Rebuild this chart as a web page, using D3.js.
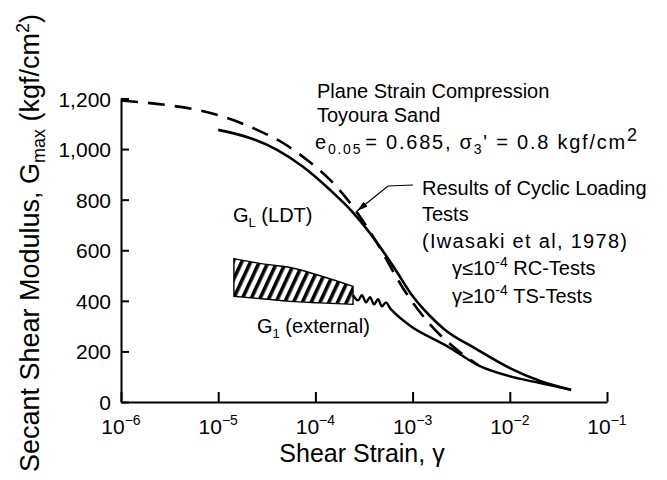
<!DOCTYPE html>
<html><head><meta charset="utf-8">
<script src="https://cdn.jsdelivr.net/npm/d3@7"></script>
<style>
html,body{margin:0;padding:0;background:#fff;}
svg{display:block;font-family:"Liberation Sans",Arial,sans-serif;}
</style></head><body>
<svg id="chart" width="667" height="480"></svg>
<script>
// ---------- data ----------
const xTickValues = [1e-6, 1e-5, 1e-4, 1e-3, 1e-2, 1e-1];
const xTickExponents = ["−6", "−5", "−4", "−3", "−2", "−1"];
const yTickValues = [0, 200, 400, 600, 800, 1000, 1200];

// Results of cyclic loading tests (dashed)
const cyclicStrain = [1e-6, 2.97e-6, 6.05e-6, 1.23e-5, 2.51e-5, 4.65e-5, 8.2e-5, 1.41e-4, 2.44e-4, 3.92e-4, 8.75e-4, 1.51e-3, 3.08e-3, 4.71e-3];
const cyclicG      = [1192, 1174, 1155, 1123, 1076, 1024, 957, 879, 772, 654, 426, 307, 197, 146];

// G_L (LDT) (solid)
const ldtStrain = [1e-5, 2.12e-5, 4.03e-5, 7.45e-5, 1.41e-4, 2.44e-4, 4.31e-4, 6.59e-4, 1e-3, 1.51e-3, 2.1e-3, 4.49e-3, 1e-2, 2.05e-2, 4.27e-2];
const ldtG      = [1076, 1044, 997, 930, 839, 749, 630, 526, 419, 340, 289, 210, 134, 83, 48];

// G_1 (external) hatched band
const bandStrain = [1.45e-5, 3e-5, 5.5e-5, 1.1e-4, 2.44e-4];
const bandUpperG = [567, 545, 532, 500, 457];
const bandLowerG = [418, 407, 398, 392, 386];

// G_1 (external) line continuing from the band
const externalStrain = [2.44e-4, 2.74e-4, 3.01e-4, 3.32e-4, 3.65e-4, 4.01e-4, 4.41e-4, 4.84e-4, 5.32e-4, 6.0e-4, 1e-3, 2.26e-3, 4.93e-3, 1.08e-2, 2.05e-2, 4.27e-2];
const externalG      = [422, 402, 422, 394, 414, 386, 406, 378, 394, 366, 295, 221, 142, 98, 75, 48];

// ---------- layout ----------
const plot = {left: 121, right: 607, top: 98.5, bottom: 402};
const svg = d3.select("#chart");
const x = d3.scaleLog().domain([1e-6, 1e-1]).range([plot.left, plot.right]);
const y = d3.scaleLinear().domain([0, 1200]).range([plot.bottom, plot.top]);

const defs = svg.append("defs");
defs.append("pattern").attr("id", "hatch")
  .attr("patternUnits", "userSpaceOnUse").attr("width", 8).attr("height", 8)
  .attr("patternTransform", "rotate(25)")
  .append("rect").attr("x", 0).attr("y", 0).attr("width", 3.6).attr("height", 8).attr("fill", "#000");
defs.append("marker").attr("id", "arrow")
  .attr("markerUnits", "userSpaceOnUse").attr("markerWidth", 12).attr("markerHeight", 8)
  .attr("refX", 11).attr("refY", 4).attr("orient", "auto")
  .append("path").attr("d", "M0,1 L11,4 L0,7 Z").attr("fill", "#000");

// ---------- axes ----------
const xAxis = d3.axisBottom(x).tickValues(xTickValues).tickFormat(() => "")
  .tickSizeInner(-10).tickSizeOuter(0);
const gx = svg.append("g").attr("transform", `translate(0,${plot.bottom})`).call(xAxis);
const yAxis = d3.axisLeft(y).tickValues(yTickValues).tickFormat(d3.format(","))
  .tickSizeInner(-8).tickSizeOuter(0).tickPadding(10);
const gy = svg.append("g").attr("transform", `translate(${plot.left},0)`).call(yAxis);
[gx, gy].forEach(g => {
  g.selectAll("path.domain").attr("stroke", "#000").attr("stroke-width", 2);
  g.selectAll(".tick line").attr("stroke", "#000").attr("stroke-width", 2);
});
gy.selectAll(".tick text").attr("font-size", 21).attr("font-family", "Liberation Sans, Arial, sans-serif")
  .attr("fill", "#000").attr("dy", "0.36em");

// x tick labels 10^n
const xl = svg.append("g").attr("font-size", 21).attr("fill", "#000");
xTickValues.forEach((v, i) => {
  const t = xl.append("text").attr("x", x(v)).attr("y", 434).attr("text-anchor", "middle");
  t.append("tspan").text("10");
  t.append("tspan").attr("font-size", 14).attr("dy", -9).text(xTickExponents[i]);
});

// axis titles
svg.append("text").attr("x", 362).attr("y", 462).attr("text-anchor", "middle")
  .attr("font-size", 25).text("Shear Strain, γ");
const yt = svg.append("text").attr("transform", "translate(39,243) rotate(-90)")
  .attr("text-anchor", "middle").attr("font-size", 27);
yt.append("tspan").text("Secant Shear Modulus, G");
yt.append("tspan").attr("font-size", 18).attr("dy", 6).text("max");
yt.append("tspan").attr("dy", -6).text(" (kgf/cm");
yt.append("tspan").attr("font-size", 18).attr("dy", -10).text("2");
yt.append("tspan").attr("dy", 10).text(")");

// ---------- marks ----------
const bandData = bandStrain.map((s, i) => ({s, hi: bandUpperG[i], lo: bandLowerG[i]}));
svg.append("path").datum(bandData)
  .attr("d", d3.area().x(d => x(d.s)).y0(d => y(d.lo)).y1(d => y(d.hi)).curve(d3.curveMonotoneX))
  .attr("fill", "url(#hatch)").attr("stroke", "#000").attr("stroke-width", 1.4);

const line = d3.line().x(d => x(d[0])).y(d => y(d[1])).curve(d3.curveMonotoneX);
svg.append("path").datum(cyclicStrain.map((s, i) => [s, cyclicG[i]]))
  .attr("d", line).attr("fill", "none").attr("stroke", "#000").attr("stroke-width", 2.6)
  .attr("stroke-dasharray", "17,10");
svg.append("path").datum(ldtStrain.map((s, i) => [s, ldtG[i]]))
  .attr("d", line).attr("fill", "none").attr("stroke", "#000").attr("stroke-width", 2.6);
svg.append("path").datum(externalStrain.map((s, i) => [s, externalG[i]]))
  .attr("d", d3.line().x(d => x(d[0])).y(d => y(d[1])).curve(d3.curveCatmullRom))
  .attr("fill", "none").attr("stroke", "#000").attr("stroke-width", 2.4);

// ---------- annotations ----------
const ann = svg.append("g").attr("font-size", 20).attr("fill", "#000");
ann.append("text").attr("x", 317).attr("y", 98).text("Plane Strain Compression");
ann.append("text").attr("x", 317).attr("y", 122).text("Toyoura Sand");
const e = ann.append("text").attr("x", 315).attr("y", 149)
  .attr("textLength", 322).attr("lengthAdjust", "spacing");
e.append("tspan").text("e");
e.append("tspan").attr("font-size", 14).attr("dy", 5).text("0.05");
e.append("tspan").attr("dy", -5).attr("dx", 3).text("= 0.685, σ");
e.append("tspan").attr("font-size", 14).attr("dy", 5).text("3");
e.append("tspan").attr("dy", -5).text("' = 0.8 kgf/cm");
e.append("tspan").attr("font-size", 18).attr("dy", -8).text("2");

ann.append("text").attr("x", 422).attr("y", 195).text("Results of Cyclic Loading");
ann.append("text").attr("x", 422).attr("y", 221).text("Tests");
ann.append("text").attr("x", 422).attr("y", 248)
  .attr("textLength", 205).attr("lengthAdjust", "spacing").text("(Iwasaki et al, 1978)");
[["≤", "RC", 275], ["≥", "TS", 303]].forEach(([op, kind, yy]) => {
  const t = ann.append("text").attr("x", 452).attr("y", yy);
  t.append("tspan").text("γ" + op + "10");
  t.append("tspan").attr("font-size", 14).attr("dy", -8).text("-4");
  t.append("tspan").attr("dy", 8).text(" " + kind + "-Tests");
});
svg.append("path")
  .attr("d", `M413,185 L388,186 L${x(2.68e-4)},${y(755)}`)
  .attr("fill", "none").attr("stroke", "#000").attr("stroke-width", 1.2)
  .attr("marker-end", "url(#arrow)");

const gl = ann.append("text").attr("x", 233).attr("y", 222);
gl.append("tspan").text("G");
gl.append("tspan").attr("font-size", 13).attr("dy", 5).text("L");
gl.append("tspan").attr("dy", -5).text(" (LDT)");
const g1 = ann.append("text").attr("x", 257).attr("y", 333);
g1.append("tspan").text("G");
g1.append("tspan").attr("font-size", 13).attr("dy", 5).text("1");
g1.append("tspan").attr("dy", -5).text(" (external)");
</script>
</body></html>
